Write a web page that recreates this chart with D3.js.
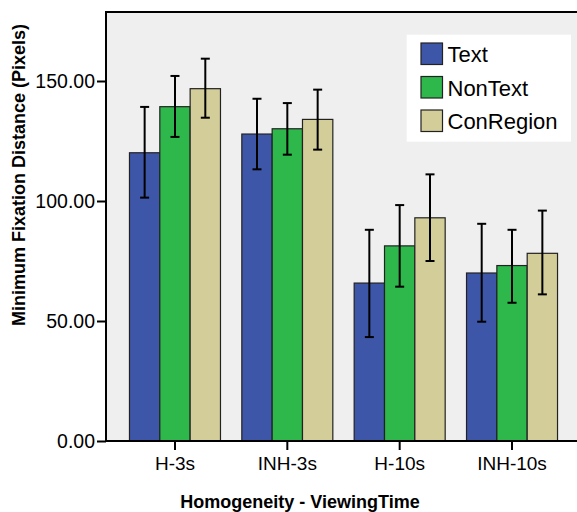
<!DOCTYPE html>
<html>
<head>
<meta charset="utf-8">
<script src="https://cdn.jsdelivr.net/npm/d3@7"></script>
<style>
  body { margin: 0; background: #fff; }
  text { font-family: "Liberation Sans", Arial, sans-serif; }
</style>
</head>
<body>
<div id="chart"></div>
<script>
// categories and series
const groups = ["H-3s", "INH-3s", "H-10s", "INH-10s"];
const seriesNames = ["Text", "NonText", "ConRegion"];
const seriesColors = ["#3d56a8", "#2eb84b", "#d3ce99"];

// mean values per series (same order as groups)
const textMean = [120.1, 127.9, 65.8, 70.0];
const nonTextMean = [139.3, 130.1, 81.3, 73.1];
const conRegionMean = [146.8, 134.0, 93.0, 78.2];

// error bar bounds
const textLow = [101.4, 113.2, 43.3, 49.7];
const textHigh = [139.2, 142.6, 88.0, 90.5];
const nonTextLow = [126.7, 119.3, 64.3, 57.6];
const nonTextHigh = [152.1, 140.8, 98.3, 88.0];
const conRegionLow = [134.7, 121.4, 75.0, 61.1];
const conRegionHigh = [159.3, 146.4, 111.1, 96.0];

const yTicks = [0, 50, 100, 150];

const means = [textMean, nonTextMean, conRegionMean];
const lows = [textLow, nonTextLow, conRegionLow];
const highs = [textHigh, nonTextHigh, conRegionHigh];

const rows = [];
groups.forEach((g, gi) => {
  seriesNames.forEach((s, si) => {
    rows.push({ group: g, series: s, si: si, value: means[si][gi], lo: lows[si][gi], hi: highs[si][gi] });
  });
});

const width = 577, height = 512;
const plotLeft = 106, plotTop = 12, plotBottom = 441, plotRight = 582;

const svg = d3.select("#chart").append("svg")
  .attr("width", width)
  .attr("height", height);

// plot background
svg.append("rect")
  .attr("x", plotLeft)
  .attr("y", plotTop)
  .attr("width", plotRight - plotLeft)
  .attr("height", plotBottom - plotTop)
  .attr("fill", "#efefef")
  .attr("stroke", "#000")
  .attr("stroke-width", 2);

const y = d3.scaleLinear()
  .domain([0, 178.75])
  .range([plotBottom, plotTop]);

const x0 = d3.scaleBand()
  .domain(groups)
  .range([118.8, 568.2])
  .paddingInner(0.19)
  .paddingOuter(0.095);

const x1 = d3.scaleBand()
  .domain(seriesNames)
  .range([0, x0.bandwidth()]);

const color = d3.scaleOrdinal().domain(seriesNames).range(seriesColors);

// bars
svg.selectAll(".bar")
  .data(rows)
  .enter().append("rect")
  .attr("class", "bar")
  .attr("x", d => x0(d.group) + x1(d.series))
  .attr("y", d => y(d.value))
  .attr("width", x1.bandwidth())
  .attr("height", d => y(0) - y(d.value))
  .attr("fill", d => color(d.series))
  .attr("stroke", "#222")
  .attr("stroke-width", 1.2);

// error bars
const cx = d => x0(d.group) + x1(d.series) + x1.bandwidth() / 2;
const err = svg.append("g").attr("stroke", "#000").attr("stroke-width", 2);
err.selectAll(".ev")
  .data(rows)
  .enter().append("line")
  .attr("x1", cx).attr("x2", cx)
  .attr("y1", d => y(d.lo)).attr("y2", d => y(d.hi));
err.selectAll(".et")
  .data(rows)
  .enter().append("line")
  .attr("x1", d => cx(d) - 4.5).attr("x2", d => cx(d) + 4.5)
  .attr("y1", d => y(d.hi)).attr("y2", d => y(d.hi));
err.selectAll(".eb")
  .data(rows)
  .enter().append("line")
  .attr("x1", d => cx(d) - 4.5).attr("x2", d => cx(d) + 4.5)
  .attr("y1", d => y(d.lo)).attr("y2", d => y(d.lo));

// y axis
const yAxis = svg.append("g")
  .attr("transform", `translate(${plotLeft},0)`)
  .call(d3.axisLeft(y).tickValues(yTicks).tickFormat(d3.format(".2f")).tickSize(9).tickPadding(2));
yAxis.select(".domain").remove();
yAxis.selectAll("line").attr("stroke", "#000").attr("stroke-width", 2);
yAxis.selectAll("text").attr("font-size", "19.5px").attr("fill", "#000")
  .attr("font-family", "Liberation Sans, Arial, sans-serif");

// x axis
const xAxis = svg.append("g")
  .attr("transform", `translate(0,${plotBottom})`)
  .call(d3.axisBottom(x0).tickSize(9).tickPadding(7));
xAxis.select(".domain").remove();
xAxis.selectAll("line").attr("stroke", "#000").attr("stroke-width", 2);
xAxis.selectAll("text").attr("font-size", "19px").attr("fill", "#000")
  .attr("font-family", "Liberation Sans, Arial, sans-serif");

// bottom axis line
svg.append("line")
  .attr("x1", plotLeft).attr("x2", plotRight)
  .attr("y1", plotBottom).attr("y2", plotBottom)
  .attr("stroke", "#000").attr("stroke-width", 2);

// axis titles
svg.append("text")
  .attr("x", 300)
  .attr("y", 508)
  .attr("text-anchor", "middle")
  .attr("font-size", "18px")
  .attr("font-weight", "bold")
  .text("Homogeneity - ViewingTime");

svg.append("text")
  .attr("transform", "translate(25,175) rotate(-90)")
  .attr("text-anchor", "middle")
  .attr("font-size", "18px")
  .attr("font-weight", "bold")
  .text("Minimum Fixation Distance (Pixels)");

// legend
const legend = svg.append("g");
legend.append("rect")
  .attr("x", 406.7).attr("y", 34.7)
  .attr("width", 164.3).attr("height", 107)
  .attr("fill", "#fff");
const li = legend.selectAll(".li")
  .data(seriesNames)
  .enter().append("g")
  .attr("transform", (d, i) => `translate(421,${43 + i * 33.5})`);
li.append("rect")
  .attr("width", 21.5).attr("height", 21.5)
  .attr("fill", d => color(d))
  .attr("stroke", "#222").attr("stroke-width", 1.2);
li.append("text")
  .attr("x", 26.5).attr("y", 19)
  .attr("font-size", "22px")
  .text(d => d);
</script>
</body>
</html>
